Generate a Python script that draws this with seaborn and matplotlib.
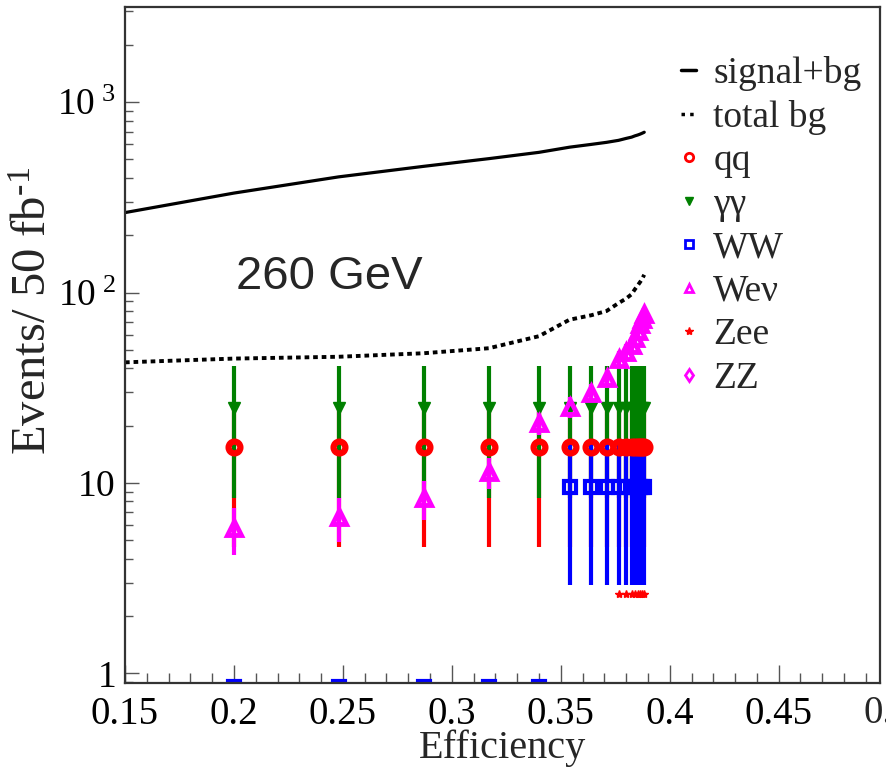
import numpy as np
import pandas as pd
import matplotlib
matplotlib.use('Agg')
import matplotlib.pyplot as plt
import matplotlib.transforms as mtransforms
import seaborn as sns
from matplotlib.lines import Line2D
from matplotlib.ticker import FixedLocator, FixedFormatter, MultipleLocator, LogLocator, NullFormatter

# --- Data ---
eff = [0.200, 0.248, 0.287, 0.317, 0.340, 0.354, 0.364, 0.371,
       0.3765, 0.380, 0.3825, 0.384, 0.3853, 0.3865, 0.3875, 0.3883]

line_eff = [0.150] + eff
signal_bg = [263, 333, 405, 460, 505, 545, 580, 600, 615,
             630, 645, 655, 665, 672, 680, 688, 695]
total_bg = [43, 45, 46, 48, 51, 59, 72, 76, 80,
            88, 93, 98, 104, 109, 114, 119, 124]

qq = [15.4] * 16
qq_err = [10.8] * 16
gg = [24.8] * 16
gg_err = [16.5] * 16
ww = [0, 0, 0, 0, 0, 9.5, 9.5, 9.5, 9.5, 9.5, 9.5, 9.5, 9.5, 9.5, 9.5, 9.5]
ww_err = [0, 0, 0, 0, 0, 6.6, 6.6, 6.6, 6.6, 6.6, 6.6, 6.6, 6.6, 6.6, 6.6, 6.6]
wev = [5.8, 6.6, 8.3, 11.4, 20.7, 25.1, 29.6, 35.4, 45, 49, 53, 58, 63, 68, 73, 77]
wev_err = [1.6, 1.7, 1.9, 2.1, 2.9, 3.1, 3.4, 3.8, 4.3, 4.5, 4.7, 4.9, 5.1, 5.3, 5.5, 5.7]
zee = [np.nan] * 8 + [2.6] * 8

y_ticks = [1, 10, 100, 1000]
y_ticklabels = [r'$\mathrm{1}\;\;$', r'$\mathrm{10}\;\;$',
                r'$\mathrm{10^{\ 2}}$', r'$\mathrm{10^{\ 3}}$']
x_ticks = [0.15, 0.2, 0.25, 0.3, 0.35, 0.4, 0.45]
x_ticklabels = ['0.15', '0.2', '0.25', '0.3', '0.35', '0.4', '0.45']

XMIN, XMAX = 0.15, 0.4965
YMIN, YMAX = 0.89, 3160
ZERO_FLOOR = 0.85   # where empty bins end up (just under the frame)

# --- Style ---
sns.set_style('ticks')
plt.rcParams['font.family'] = ['Liberation Serif', 'DejaVu Serif']
plt.rcParams['mathtext.fontset'] = 'custom'
plt.rcParams['mathtext.rm'] = 'Liberation Serif'
plt.rcParams['mathtext.it'] = 'Liberation Serif:italic'

fig = plt.figure(figsize=(8.86, 7.67), dpi=100)
ax = fig.add_axes([125 / 886, 1 - 683 / 767, 755 / 886, 676 / 767])

lines_df = pd.DataFrame({'eff': line_eff, 'signal_bg': signal_bg, 'total_bg': total_bg})
sns.lineplot(data=lines_df, x='eff', y='signal_bg', ax=ax, color='black', lw=2.3)
sns.lineplot(data=lines_df, x='eff', y='total_bg', ax=ax, color='black', lw=2.8,
             linestyle=(0, (1.2, 1.0)))

eb = dict(ls='none', elinewidth=3, capsize=0)
ax.errorbar(eff, qq, yerr=qq_err, color='red', marker='o', ms=8.5, mfc='none', mew=4.5, **eb)
ax.errorbar(eff, gg, yerr=gg_err, color='green', marker='v', ms=8, **eb)
ww_plot = [w if w > 0 else ZERO_FLOOR for w in ww]
ax.errorbar(eff, ww_plot, yerr=ww_err, color='blue', marker='s', ms=9, mfc='none', mew=3, **eb)
ax.errorbar(eff, wev, yerr=wev_err, color='magenta', marker='^', ms=10, mfc='none', mew=3.5, **eb)
ax.plot(eff, zee, ls='none', color='red', marker='*', ms=6)

ax.set_yscale('log')
ax.set_xlim(XMIN, XMAX)
ax.set_ylim(YMIN, YMAX)

ax.xaxis.set_major_locator(FixedLocator(x_ticks))
ax.xaxis.set_major_formatter(FixedFormatter(x_ticklabels))
ax.xaxis.set_minor_locator(MultipleLocator(0.01))
ax.yaxis.set_major_locator(FixedLocator(y_ticks))
ax.yaxis.set_major_formatter(FixedFormatter(y_ticklabels))
ax.yaxis.set_minor_locator(LogLocator(base=10, subs=np.arange(2, 10)))
ax.yaxis.set_minor_formatter(NullFormatter())

ax.tick_params(axis='both', which='both', direction='in', colors='#555555', labelcolor='black')
ax.tick_params(axis='x', which='major', length=13, width=1, labelsize=28, pad=9)
ax.tick_params(axis='x', which='minor', length=7, width=1)
ax.tick_params(axis='y', which='major', length=10, width=1, labelsize=27, pad=7)
ax.tick_params(axis='y', which='minor', length=6, width=1)
for s in ax.spines.values():
    s.set_linewidth(1.6)
    s.set_color('#333333')

# ROOT prints the 0.5 label just past the frame edge, where it gets cut
ax.text(0.5, -0.018, '0.5', fontsize=28, ha='center', va='top', clip_on=False,
        transform=mtransforms.blended_transform_factory(ax.transData, ax.transAxes))

ax.set_xlabel('Efficiency', fontsize=29, labelpad=-2)
ax.set_ylabel('Events/ 50 fb$^{\\mathrm{\u2010}\\mathrm{1}}$', fontsize=35)
ax.yaxis.set_label_coords(-0.091, 0.55)

ax.text(0.201, 120, '260 GeV', fontsize=34, family='Liberation Sans', va='center', ha='left')

handles = [
    Line2D([], [], color='black', lw=2.5),
    Line2D([], [], color='black', lw=2.5, linestyle=(0, (1, 1.5))),
    Line2D([], [], color='red', marker='o', ls='none', ms=6, mfc='none', mew=2),
    Line2D([], [], color='green', marker='v', ls='none', ms=6),
    Line2D([], [], color='blue', marker='s', ls='none', ms=6, mfc='none', mew=2),
    Line2D([], [], color='magenta', marker='^', ls='none', ms=6, mfc='none', mew=2),
    Line2D([], [], color='red', marker='*', ls='none', ms=6),
    Line2D([], [], color='magenta', marker='d', ls='none', ms=6, mfc='none', mew=2),
]
labels = ['signal+bg', 'total bg', 'qq', 'γγ', 'WW', 'Weν', 'Zee', 'ZZ']
ax.legend(handles, labels, loc='upper left', bbox_to_anchor=(0.737, 0.928), frameon=False,
          fontsize=27, handlelength=0.4, handletextpad=0.45, labelspacing=0.24,
          borderpad=0, borderaxespad=0)

fig.savefig('out.png', dpi=100)
